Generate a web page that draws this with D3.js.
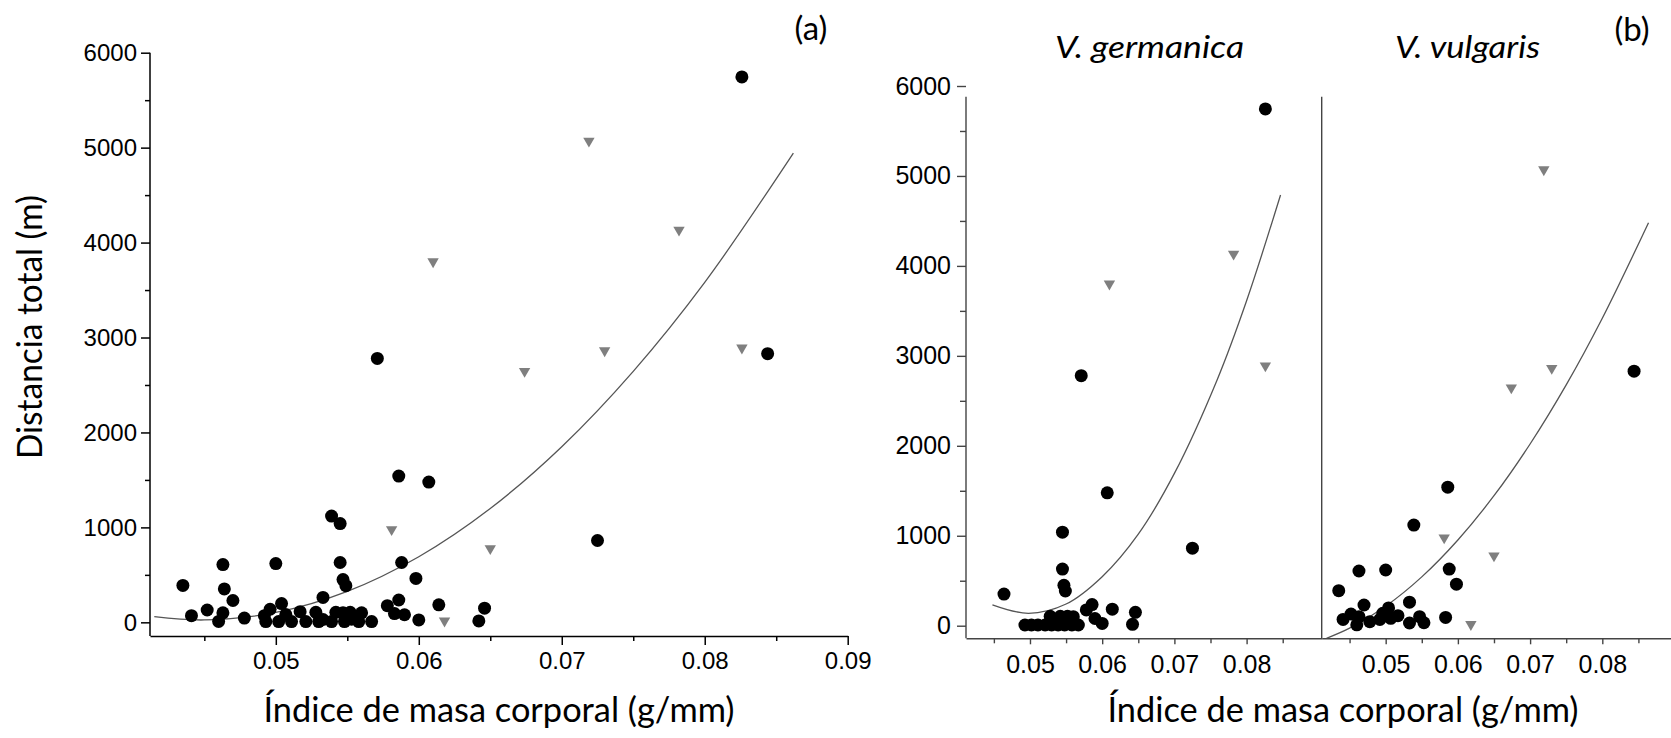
<!DOCTYPE html>
<html><head><meta charset="utf-8">
<script src="https://cdn.jsdelivr.net/npm/d3@7"></script>
<style>body{margin:0;background:#fff}svg{display:block}</style>
</head><body>
<svg id="c" width="1671" height="738"></svg>
<script>
// ---- data ----
const yTicks = [0, 1000, 2000, 3000, 4000, 5000, 6000];
const yMinor = [500, 1500, 2500, 3500, 4500, 5500];
const xTicksA = [0.05, 0.06, 0.07, 0.08, 0.09];
const xMinorA = [0.045, 0.055, 0.065, 0.075, 0.085];
const xTicksB = [0.05, 0.06, 0.07, 0.08];
const xMinorB = [0.045, 0.055, 0.065, 0.075, 0.085];

// V. germanica: [body mass index, total distance]
const germCircles = [
  [0.0464,352],[0.0493,8],[0.0502,8],[0.0511,8],[0.0521,8],[0.0528,105],[0.0530,8],
  [0.0539,8],[0.0542,105],[0.0545,1040],[0.0545,630],[0.0547,450],[0.0549,386],[0.0548,8],
  [0.0552,105],[0.0558,8],[0.0560,100],[0.0567,8],[0.0571,2780],[0.0578,175],[0.0586,235],
  [0.0590,80],[0.0600,25],[0.0607,1477],[0.0614,184],[0.0642,15],[0.0646,149],[0.0725,862],
  [0.0826,5745]
];
const germTriangles = [[0.0610,3800],[0.0782,4132],[0.0826,2891]];

// V. vulgaris
const vulgCircles = [
  [0.0435,389],[0.0441,70],[0.0452,130],[0.0460,10],[0.0463,100],[0.0463,608],[0.0470,230],
  [0.0478,45],[0.0492,70],[0.0496,138],[0.0500,619],[0.0504,198],[0.0507,82],[0.0517,112],
  [0.0533,262],[0.0533,30],[0.0539,1119],[0.0547,100],[0.0553,33],[0.0583,92],[0.0586,1540],
  [0.0588,630],[0.0598,462],[0.0844,2830]
];
const vulgTriangles = [[0.0581,978],[0.0618,15],[0.0650,778],[0.0674,2645],[0.0719,5070],[0.0730,2862]];

// fitted curves
const fitAll  = [[0.0415,59],[0.045,25],[0.050,104],[0.055,326],[0.060,691],[0.065,1199],[0.070,1850],[0.075,2644],[0.080,3581],[0.0862,4942]];
const fitGerm = [[0.0448,232],[0.0498,138],[0.055,241],[0.060,545],[0.065,1018],[0.070,1693],[0.0759,2730],[0.080,3613],[0.0847,4788]];
const fitVulg = [[0.0418,-140],[0.045,-27],[0.050,217],[0.055,543],[0.060,953],[0.065,1445],[0.070,2020],[0.075,2677],[0.080,3418],[0.0864,4480]];

const yLabel = "Distancia total (m)";
const xLabel = "Índice de masa corporal (g/mm)";

// ---- drawing ----
const svg = d3.select("#c");
const tickFont = "'Liberation Sans', Arial, sans-serif";
const textFont = "Lato, 'Open Sans', sans-serif";
const circleR = 6.5;
const triColor = "#7f7f7f";
const tri = d3.symbol(d3.symbolTriangle, 56);

// Panel (a) scales
const xA = d3.scaleLinear().domain([0.0412, 0.09]).range([150, 847.7]);
const yA = d3.scaleLinear().domain([-144, 6000]).range([636, 52.7]);
// Panel (b) scales
const xG = d3.scaleLinear().domain([0.04114, 0.0904]).range([966, 1321.7]);
const xV = d3.scaleLinear().domain([0.04114, 0.0904]).range([1321.7, 1677.4]);
const yB = d3.scaleLinear().domain([-140, 6000]).range([638.3, 86]);

function styleAxis(g, size, color, sw) {
  g.attr("font-family", tickFont).attr("font-size", size);
  g.selectAll("text").attr("fill", "#000");
  g.selectAll("line").attr("stroke", color).attr("stroke-width", sw);
  g.selectAll("path.domain").attr("stroke", color).attr("stroke-width", sw);
}

// ---- Panel (a) axes ----
const gAy = svg.append("g").attr("transform", `translate(${xA.range()[0]},0)`)
  .call(d3.axisLeft(yA).tickValues(yTicks).tickSize(9).tickSizeOuter(0).tickPadding(4).tickFormat(d3.format("d")));
gAy.select("path.domain").attr("d", `M0,${yA.range()[0]}V${yA(6000)}`);
styleAxis(gAy, 24, "#000", 1.5);
const gAym = svg.append("g").attr("transform", `translate(${xA.range()[0]},0)`)
  .call(d3.axisLeft(yA).tickValues(yMinor).tickSize(5).tickFormat(""));
gAym.select("path.domain").remove();
styleAxis(gAym, 24, "#000", 1.5);

const gAx = svg.append("g").attr("transform", `translate(0,${yA.range()[0]})`)
  .call(d3.axisBottom(xA).tickValues(xTicksA).tickSize(9).tickSizeOuter(0).tickPadding(7).tickFormat(d3.format(".2f")));
styleAxis(gAx, 24, "#000", 1.5);
const gAxm = svg.append("g").attr("transform", `translate(0,${yA.range()[0]})`)
  .call(d3.axisBottom(xA).tickValues(xMinorA).tickSize(5).tickFormat(""));
gAxm.select("path.domain").remove();
styleAxis(gAxm, 24, "#000", 1.5);

// ---- Panel (b) axes ----
const gBy = svg.append("g").attr("transform", `translate(${xG.range()[0]},0)`)
  .call(d3.axisLeft(yB).tickValues(yTicks).tickSize(9).tickSizeOuter(0).tickPadding(6).tickFormat(d3.format("d")));
gBy.select("path.domain").attr("d", `M0,${yB.range()[0]}V${yB(5880)}`);
styleAxis(gBy, 25, "#444", 1.4);
const gBym = svg.append("g").attr("transform", `translate(${xG.range()[0]},0)`)
  .call(d3.axisLeft(yB).tickValues(yMinor).tickSize(6).tickFormat(""));
gBym.select("path.domain").remove();
styleAxis(gBym, 25, "#444", 1.4);

// vulgaris y-axis line (no ticks)
const gVy = svg.append("g").attr("transform", `translate(${xV.range()[0]},0)`)
  .call(d3.axisLeft(yB).tickValues([]).tickSizeOuter(0));
gVy.select("path.domain").attr("d", `M0,${yB.range()[0]}V${yB(5880)}`);
styleAxis(gVy, 25, "#444", 1.4);

[[xG, "g"], [xV, "v"]].forEach(([sc]) => {
  const gx = svg.append("g").attr("transform", `translate(0,${yB.range()[0]})`)
    .call(d3.axisBottom(sc).tickValues(xTicksB).tickSize(6).tickSizeOuter(0).tickPadding(11).tickFormat(d3.format(".2f")));
  styleAxis(gx, 25, "#444", 1.4);
  const gxm = svg.append("g").attr("transform", `translate(0,${yB.range()[0]})`)
    .call(d3.axisBottom(sc).tickValues(xMinorB).tickSize(5).tickFormat(""));
  gxm.select("path.domain").remove();
  styleAxis(gxm, 25, "#444", 1.4);
});

// ---- clip paths ----
const defs = svg.append("defs");
defs.append("clipPath").attr("id", "clipG").append("rect")
  .attr("x", xG.range()[0]).attr("y", 0).attr("width", xG.range()[1] - xG.range()[0]).attr("height", yB.range()[0]);
defs.append("clipPath").attr("id", "clipV").append("rect")
  .attr("x", xV.range()[0]).attr("y", 0).attr("width", xV.range()[1] - xV.range()[0]).attr("height", yB.range()[0]);

// ---- fitted curves ----
function drawFit(data, xs, ys, clip) {
  const line = d3.line().x(d => xs(d[0])).y(d => ys(d[1])).curve(d3.curveCatmullRom.alpha(0.5));
  const p = svg.append("path").datum(data).attr("d", line)
    .attr("fill", "none").attr("stroke", "#555").attr("stroke-width", 1.3);
  if (clip) p.attr("clip-path", `url(#${clip})`);
}
drawFit(fitAll, xA, yA);
drawFit(fitGerm, xG, yB, "clipG");
drawFit(fitVulg, xV, yB, "clipV");

// ---- points ----
function drawPoints(circles, tris, xs, ys) {
  const g = svg.append("g");
  g.selectAll("circle").data(circles).join("circle")
    .attr("cx", d => xs(d[0])).attr("cy", d => ys(d[1])).attr("r", circleR).attr("fill", "#000");
  g.selectAll("path").data(tris).join("path")
    .attr("d", tri)
    .attr("transform", d => `translate(${xs(d[0])},${ys(d[1])}) rotate(180)`)
    .attr("fill", triColor);
}
drawPoints(germCircles.concat(vulgCircles), germTriangles.concat(vulgTriangles), xA, yA);
drawPoints(germCircles, germTriangles, xG, yB);
drawPoints(vulgCircles, vulgTriangles, xV, yB);

// ---- texts ----
svg.append("text").attr("transform", "translate(41.7,327) rotate(-90)")
  .attr("text-anchor", "middle").attr("font-family", textFont).attr("font-size", 34)
  .attr("textLength", 264).attr("lengthAdjust", "spacingAndGlyphs").text(yLabel);

[[499, 722], [1343, 722]].forEach(([cx, by]) => {
  svg.append("text").attr("x", cx).attr("y", by).attr("text-anchor", "middle")
    .attr("font-family", textFont).attr("font-size", 34)
    .attr("textLength", 471).attr("lengthAdjust", "spacingAndGlyphs").text(xLabel);
});

svg.append("text").attr("x", 811).attr("y", 40).attr("text-anchor", "middle")
  .attr("font-family", textFont).attr("font-size", 33).text("(a)");
svg.append("text").attr("x", 1632).attr("y", 41).attr("text-anchor", "middle")
  .attr("font-family", textFont).attr("font-size", 33).text("(b)");

svg.append("text").attr("x", 1149.5).attr("y", 58).attr("text-anchor", "middle")
  .attr("font-family", textFont).attr("font-style", "italic").attr("font-size", 31)
  .attr("textLength", 189).attr("lengthAdjust", "spacingAndGlyphs").text("V. germanica");
svg.append("text").attr("x", 1467.5).attr("y", 58).attr("text-anchor", "middle")
  .attr("font-family", textFont).attr("font-style", "italic").attr("font-size", 31)
  .attr("textLength", 145).attr("lengthAdjust", "spacingAndGlyphs").text("V. vulgaris");
</script>
</body></html>
